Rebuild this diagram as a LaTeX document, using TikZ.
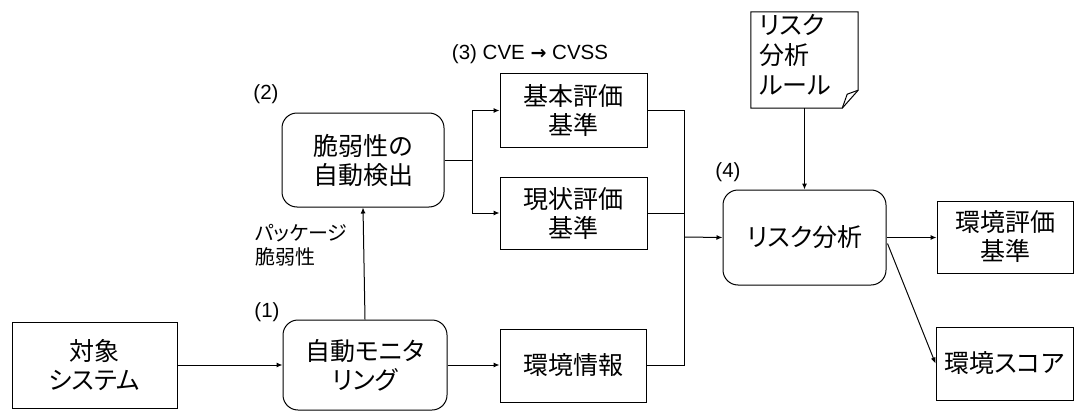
\documentclass[tikz,border=0pt]{standalone}
\usepackage{fontspec}
\setmainfont{Liberation Sans}
\newfontfamily\jp[RawFeature=+palt]{Noto Sans CJK JP}
\newfontfamily\dvs{DejaVu Sans}
\usetikzlibrary{arrows.meta,calc}
\tikzset{
  arr/.style={-{Latex[length=6pt,width=5pt]}},
  ln/.style={line width=1pt},
  bigtxt/.style={font=\jp\fontsize{25}{29}\selectfont, align=center, inner sep=0pt},
  sqbox/.style={ln, draw, bigtxt},
  rbox/.style={ln, draw, rounded corners=15pt, bigtxt},
  lbl/.style={font=\fontsize{20.5}{23}\selectfont, inner sep=0pt},
  jlbl/.style={font=\jp\fontsize{20}{24}\selectfont, inner sep=0pt, align=left},
}
\begin{document}
\begin{tikzpicture}[x=1pt,y=-1pt]
\useasboundingbox (0,0) rectangle (1076,412);
% nodes
\node[sqbox, minimum width=165pt, minimum height=86pt] (tgt) at (94.5,365) {対象\\システム};
\node[rbox, minimum width=164pt, minimum height=90pt] (mon) at (365,365) {自動モニタ\\リング};
\node[rbox, minimum width=162pt, minimum height=94pt] (det) at (363,160) {脆弱性の\\自動検出};
\node[sqbox, minimum width=147pt, minimum height=73pt] (base) at (573.5,110.5) {基本評価\\基準};
\node[sqbox, minimum width=147pt, minimum height=72pt] (cur) at (573.5,213) {現状評価\\基準};
\node[sqbox, minimum width=146pt, minimum height=73pt] (env) at (573,365.5) {環境情報};
\node[rbox, minimum width=163pt, minimum height=95pt] (risk) at (804.5,237.5) {リスク分析};
\node[sqbox, minimum width=136pt, minimum height=72pt] (envb) at (1005,237) {環境評価\\基準};
\node[sqbox, minimum width=137pt, minimum height=73pt] (score) at (1004.5,363.5) {環境スコア};
% document node
\node[bigtxt, minimum width=107pt, minimum height=96pt] (rule) at (804.5,60) {};
\node[font=\jp\fontsize{25}{30}\selectfont, align=left, inner sep=0pt, anchor=north west] (ruletxt) at (759,14) {リスク\\分析\\ルール};
\draw[ln] (rule.north west) -- (rule.north east) -- ($(rule.south east)+(0,-18)$) -- ($(rule.south east)+(-16,0)$) -- (rule.south west) -- cycle;
\draw[ln] ($(rule.south east)+(0,-18)$) .. controls ($(rule.south east)+(-6,-16)$) .. ($(rule.south east)+(-11,-14)$) -- ($(rule.south east)+(-16,0)$);
% labels
\node[lbl] (l1) at (267,312) {(1)};
\node[lbl] (l2) at (266,94) {(2)};
\node[lbl] (l3) at (530,54) {(3) CVE {\dvs\bfseries\fontsize{19}{20}\selectfont →} CVSS};
\node[lbl] (l4) at (728,172) {(4)};
\node[jlbl, anchor=west] (pkg) at (255,245) {パッケージ\\脆弱性};
% connectors
\coordinate (j1) at (472,160);
\coordinate (j2) at (684,237);
\draw[ln,arr] (tgt.east) -- (tgt.east -| mon.west);
\draw[ln,arr] (mon.north) -- (det.south);
\draw[ln] (det.east) -- (j1);
\draw[ln,arr] (j1) |- (base.west);
\draw[ln,arr] (j1) |- (cur.west);
\draw[ln] (base.east) -| (j2);
\draw[ln] (cur.east) -| (j2);
\draw[ln] (env.east) -| (j2);
\draw[ln,arr] (j2) -- (risk.west);
\draw[ln,arr] (mon.east) -- (mon.east -| env.west);
\draw[ln,arr] (rule.south) -- (risk.north);
\draw[ln,arr] (risk.east) -- (risk.east -| envb.west);
\draw[ln,arr] ($(risk.east)+(1,6)$) -- (score.west);
\end{tikzpicture}
\end{document}
